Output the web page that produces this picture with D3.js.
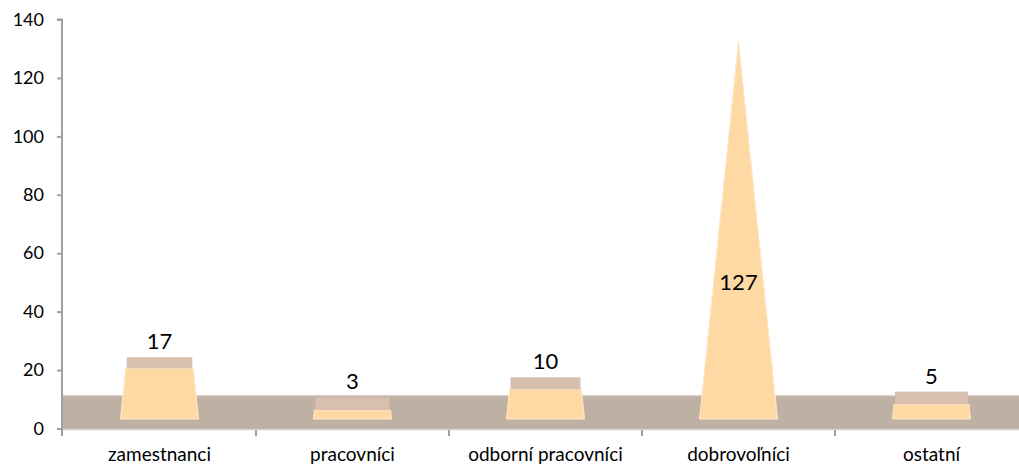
<!DOCTYPE html>
<html>
<head>
<meta charset="utf-8">
<script src="https://cdn.jsdelivr.net/npm/d3@7"></script>
<style>
  body { margin: 0; background: #fff; overflow: hidden; }
  text { font-family: Lato, "Open Sans", sans-serif; fill: #000; }
</style>
</head>
<body>
<div id="chart"></div>
<script>
// categories and values
var categories = ['zamestnanci', 'pracovníci', 'odborní pracovníci', 'dobrovoľníci', 'ostatní'];
var values = [17, 3, 10, 127, 5];
var yTicks = [0, 20, 40, 60, 80, 100, 120, 140];

var W = 1019, H = 466;
var svg = d3.select('#chart').append('svg')
  .attr('width', W).attr('height', H);

var x = d3.scaleBand().domain(categories).range([63, 1028]);
var y = d3.scaleLinear().domain([0, 140]).range([428.5, 19.5]);

// 3d look: bars sit on a floor that is drawn in front of the back wall
var depth = 13,          // depth of the base seen from above
  lift = 16,             // centre of the base is this far above the axis zero
  halfW = 39,            // half width of a pyramid base
  vmax = d3.max(values);
var yc = function(v) { return y(v) - lift; };

// floor
svg.append('rect')
  .attr('x', 63).attr('y', 395.5)
  .attr('width', W - 63).attr('height', 33.5)
  .attr('fill', '#bfb0a4');
svg.append('line')
  .attr('x1', 63).attr('x2', W).attr('y1', 395.8).attr('y2', 395.8)
  .attr('stroke', '#d9cec4').attr('stroke-width', 1);
svg.append('line')
  .attr('x1', 63).attr('x2', W).attr('y1', 429.5).attr('y2', 429.5)
  .attr('stroke', '#d0d0d0').attr('stroke-width', 1.5);

// y axis
var yAxis = d3.axisLeft(y).tickValues(yTicks).tickSize(5).tickPadding(13);
var ga = svg.append('g').attr('transform', 'translate(62,0)').call(yAxis);
ga.select('.domain').attr('stroke', '#a0a0a0').attr('stroke-width', 2)
  .attr('d', 'M-5,19.5H0V436');
ga.selectAll('.tick line').attr('stroke', '#a0a0a0').attr('stroke-width', 2);
ga.selectAll('.tick text').style('font-size', '18px').style('font-family', 'Lato, sans-serif');

// category ticks and labels
svg.append('g').selectAll('line')
  .data(categories.slice(1))
  .enter().append('line')
  .attr('x1', function(d) { return x(d); })
  .attr('x2', function(d) { return x(d); })
  .attr('y1', 430).attr('y2', 436)
  .attr('stroke', '#a0a0a0').attr('stroke-width', 2);

svg.append('g').selectAll('text')
  .data(categories)
  .enter().append('text')
  .attr('x', function(d) { return x(d) + x.bandwidth() / 2; })
  .attr('y', 461)
  .attr('text-anchor', 'middle')
  .style('font-size', '19px')
  .text(function(d) { return d; });

// pyramid-to-max bars
var bars = svg.append('g').selectAll('g.bar')
  .data(values)
  .enter().append('g').attr('class', 'bar');

bars.each(function(v, i) {
  var g = d3.select(this);
  var cx = x(categories[i]) + x.bandwidth() / 2;
  var r = 1 - v / vmax;
  var base = yc(0) + depth / 2;
  var top = yc(v);
  var tw = halfW * r, td = depth * r;
  g.append('path')
    .attr('d', 'M' + (cx - halfW) + ',' + base +
      'L' + (cx - tw) + ',' + (top + td / 2) +
      'L' + (cx + tw) + ',' + (top + td / 2) +
      'L' + (cx + halfW) + ',' + base + 'Z')
    .attr('fill', '#ffd9a3')
    .attr('stroke', '#ffe8c8').attr('stroke-width', 1);
  if (td > 0.5) {
    g.append('rect')
      .attr('x', cx - tw + 1).attr('y', top - td / 2)
      .attr('width', 2 * tw - 2).attr('height', td)
      .attr('fill', '#d9bfad');
  }
});

// data labels
svg.append('g').selectAll('text')
  .data(values)
  .enter().append('text')
  .attr('x', function(d, i) { return x(categories[i]) + x.bandwidth() / 2; })
  .attr('y', function(d) { return d === vmax ? yc(d * 0.35) : yc(d) - 22; })
  .attr('dy', '0.35em')
  .attr('text-anchor', 'middle')
  .style('font-size', '22px')
  .text(function(d) { return d; });
</script>
</body>
</html>
